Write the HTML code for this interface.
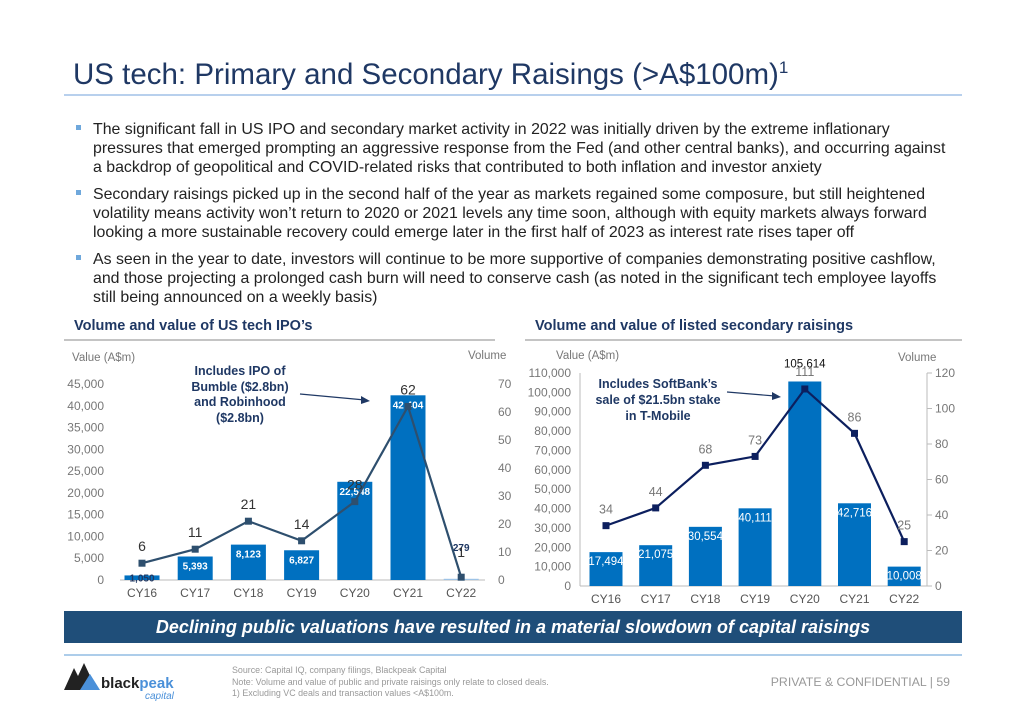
<!DOCTYPE html>
<html><head><meta charset="utf-8"><style>
html,body{margin:0;padding:0;background:#fff;}
body{width:1024px;height:702px;overflow:hidden;position:relative;font-family:"Liberation Sans",Arial,sans-serif;}
svg{position:absolute;left:0;top:0;}
</style></head><body>
<svg width="1024" height="702" viewBox="0 0 1024 702" xmlns="http://www.w3.org/2000/svg" font-family="Liberation Sans, Arial, sans-serif">
<text x="73" y="84" font-size="29.5" fill="#1F3864">US tech: Primary and Secondary Raisings (&gt;A$100m)<tspan font-size="17" dy="-11">1</tspan></text>
<line x1="64" y1="95" x2="962" y2="95" stroke="#8DB3E2" stroke-width="1.2"/>
<g font-size="15.9" fill="#222">
<rect x="76" y="125" width="5" height="5" fill="#6FA8DC"/>
<text x="93" y="134">The significant fall in US IPO and secondary market activity in 2022 was initially driven by the extreme inflationary</text>
<text x="93" y="153">pressures that emerged prompting an aggressive response from the Fed (and other central banks), and occurring against</text>
<text x="93" y="172">a backdrop of geopolitical and COVID-related risks that contributed to both inflation and investor anxiety</text>
<rect x="76" y="190" width="5" height="5" fill="#6FA8DC"/>
<text x="93" y="199">Secondary raisings picked up in the second half of the year as markets regained some composure, but still heightened</text>
<text x="93" y="218">volatility means activity won’t return to 2020 or 2021 levels any time soon, although with equity markets always forward</text>
<text x="93" y="237">looking a more sustainable recovery could emerge later in the first half of 2023 as interest rate rises taper off</text>
<rect x="76" y="255" width="5" height="5" fill="#6FA8DC"/>
<text x="93" y="264">As seen in the year to date, investors will continue to be more supportive of companies demonstrating positive cashflow,</text>
<text x="93" y="283">and those projecting a prolonged cash burn will need to conserve cash (as noted in the significant tech employee layoffs</text>
<text x="93" y="302">still being announced on a weekly basis)</text>
</g>
<text x="74" y="330" font-size="14.5" font-weight="bold" fill="#1F3864">Volume and value of US tech IPO’s</text>
<line x1="64" y1="340" x2="495" y2="340" stroke="#888" stroke-width="1"/>
<text x="535" y="330" font-size="14.5" font-weight="bold" fill="#1F3864">Volume and value of listed secondary raisings</text>
<line x1="525" y1="340" x2="962" y2="340" stroke="#888" stroke-width="1"/>
<g id="c1"></g>
<g id="c2"></g>
<rect x="64" y="611" width="898" height="32" fill="#1F4E79"/>
<text x="513" y="633" font-size="18" font-weight="bold" font-style="italic" fill="#fff" text-anchor="middle">Declining public valuations have resulted in a material slowdown of capital raisings</text>
<line x1="64" y1="655" x2="962" y2="655" stroke="#5B9BD5" stroke-width="1"/>
<g>
<polygon points="64,690 74,668 78,676 84,663 92,680 96,690" fill="#222"/>
<polygon points="80,690 90,674 100,690" fill="#4A90D9"/>
<text x="101" y="688" font-size="15" font-weight="bold" fill="#222">black<tspan fill="#4A90D9">peak</tspan></text>
<text x="145" y="699" font-size="10" font-style="italic" fill="#4A90D9">capital</text>
</g>
<g font-size="8.9" fill="#999">
<text x="232" y="673">Source: Capital IQ, company filings, Blackpeak Capital</text>
<text x="232" y="685">Note: Volume and value of public and private raisings only relate to closed deals.</text>
<text x="232" y="696">1)      Excluding VC deals and transaction values &lt;A$100m.</text>
</g>
<text x="950" y="686" font-size="12.3" fill="#999" text-anchor="end">PRIVATE &amp; CONFIDENTIAL  |  59</text>
</svg>
<script>
const categories = ["CY16","CY17","CY18","CY19","CY20","CY21","CY22"];
const ipoValues = [1050,5393,8123,6827,22548,42404,279];
const ipoVolumes = [6,11,21,14,28,62,1];
const secValues = [17494,21075,30554,40111,105614,42716,10008];
const secVolumes = [34,44,68,73,111,86,25];
const ipoLeftTicks = [0,5000,10000,15000,20000,25000,30000,35000,40000,45000];
const ipoRightTicks = [0,10,20,30,40,50,60,70];
const secLeftTicks = [0,10000,20000,30000,40000,50000,60000,70000,80000,90000,100000,110000];
const secRightTicks = [0,20,40,60,80,100,120];
const NS="http://www.w3.org/2000/svg";
function mk(p,tag,a,txt){const e=document.createElementNS(NS,tag);for(const k in a)e.setAttribute(k,a[k]);if(txt!==undefined)e.textContent=txt;p.appendChild(e);return e;}
const fmt=v=>v.toLocaleString("en-US");

function drawChart(g,o){
  const yL=v=>o.y0-(v/o.lMax)*(o.y0-o.yTop);
  const yR=v=>o.y0-(v/o.rMax)*(o.y0-o.yTop);
  const xC=i=>o.x0+i*o.step;
  o.lTicks.forEach(t=>{const e=mk(g,"text",{x:o.lx,y:yL(t)+4,"font-size":12,fill:"#777","text-anchor":"end"},fmt(t));
    
    });
  o.rTicks.forEach(t=>{const e=mk(g,"text",{x:o.rx,y:yR(t)+4,"font-size":12,fill:"#777","text-anchor":o.ranchor},String(t));
    
    
    if(o.rAxis) mk(g,"line",{x1:o.rAxis,x2:o.rAxis+5,y1:yR(t),y2:yR(t),stroke:"#bbb"});});
  if(o.lAxis){mk(g,"line",{x1:o.lAxis,x2:o.lAxis,y1:o.yTop,y2:o.y0,stroke:"#bbb"});}
  if(o.rAxis){mk(g,"line",{x1:o.rAxis,x2:o.rAxis,y1:o.yTop,y2:o.y0,stroke:"#bbb"});}
  mk(g,"line",{x1:o.bx1,x2:o.bx2,y1:o.y0,y2:o.y0,stroke:"#bbb"});
  categories.forEach((c,i)=>{
    const v=o.vals[i];const y=yL(v);
    const b=mk(g,"rect",{x:xC(i)-o.bw/2,y:y,width:o.bw,height:o.y0-y,fill:o.barColor(i)});
    
    
    const lab=mk(g,"text",{x:xC(i),y:o.valLabelY(i,y),"font-size":o.valFs,"font-weight":o.valBold?"bold":"normal",fill:o.valColor(i),"text-anchor":"middle"},fmt(v));
    
    
    const cl=mk(g,"text",{x:xC(i),y:o.y0+17,"font-size":12,fill:"#555","text-anchor":"middle"},c);
    
    
  });
  const pts=o.vols.map((v,i)=>xC(i)+","+yR(v)).join(" ");
  const pl=mk(g,"polyline",{points:pts,fill:"none",stroke:o.lineColor,"stroke-width":2.2});
  
  
  o.vols.forEach((v,i)=>{
    const m=mk(g,"rect",{x:xC(i)-3.5,y:yR(v)-3.5,width:7,height:7,fill:o.lineColor});
    
    
    const t=mk(g,"text",{x:xC(i),y:o.volLabelY(i,yR(v)),"font-size":o.volFs,fill:o.volColor,"text-anchor":"middle"},String(v));
    
    
  });
  return {yL,yR,xC};
}

const g1=document.getElementById("c1");
mk(g1,"text",{x:72,y:361,"font-size":11.5,fill:"#777"},"Value (A$m)");
mk(g1,"text",{x:468,y:359,"font-size":11.5,fill:"#777"},"Volume");
drawChart(g1,{x0:142,step:53.2,bw:35,y0:580,yTop:384,lMax:45000,rMax:70,lx:104,rx:498,ranchor:"start",
  lTicks:ipoLeftTicks,rTicks:ipoRightTicks,vals:ipoValues,vols:ipoVolumes,bx1:120,bx2:485,
  barColor:i=>i===6?"#9DC3E6":"#0070C0",valFs:10,valBold:true,
  valColor:i=>(i===0||i===6)?"#1F3864":"#fff",
  valLabelY:(i,y)=>i===0?y+6:(i===6?y-28:y+13),
  lineColor:"#2E4F6E",volFs:14,volColor:"#333",volLabelY:(i,y)=>i===6?y-20:y-12});
mk(g1,"text",{x:240,y:375,"font-size":12.5,"font-weight":"bold",fill:"#1F3864","text-anchor":"middle"},"Includes IPO of");
mk(g1,"text",{x:240,y:391,"font-size":12.5,"font-weight":"bold",fill:"#1F3864","text-anchor":"middle"},"Bumble ($2.8bn)");
mk(g1,"text",{x:240,y:406,"font-size":12.5,"font-weight":"bold",fill:"#1F3864","text-anchor":"middle"},"and Robinhood");
mk(g1,"text",{x:240,y:422,"font-size":12.5,"font-weight":"bold",fill:"#1F3864","text-anchor":"middle"},"($2.8bn)");
mk(g1,"line",{x1:300,y1:394,x2:365,y2:400,stroke:"#1F3864","stroke-width":1.2});
mk(g1,"polygon",{points:"370,401 361,396 361,404",fill:"#1F3864"});

const g2=document.getElementById("c2");
mk(g2,"text",{x:556,y:359,"font-size":11.5,fill:"#777"},"Value (A$m)");
mk(g2,"text",{x:898,y:361,"font-size":11.5,fill:"#777"},"Volume");
drawChart(g2,{x0:606,step:49.7,bw:33,y0:586,yTop:373,lMax:110000,rMax:120,lx:571,rx:935,ranchor:"start",
  lTicks:secLeftTicks,rTicks:secRightTicks,vals:secValues,vols:secVolumes,bx1:580,bx2:927,lAxis:580,rAxis:927,
  barColor:i=>"#0070C0",valFs:11.5,valBold:false,
  valColor:i=>i===4?"#111":"#fff",
  valLabelY:(i,y)=>i===4?y-14:y+13,
  lineColor:"#0C1F5E",volFs:12.5,volColor:"#777",volLabelY:(i,y)=>i===4?y-13:y-12});
mk(g2,"text",{x:658,y:388,"font-size":12.5,"font-weight":"bold",fill:"#1F3864","text-anchor":"middle"},"Includes SoftBank’s");
mk(g2,"text",{x:658,y:404,"font-size":12.5,"font-weight":"bold",fill:"#1F3864","text-anchor":"middle"},"sale of $21.5bn stake");
mk(g2,"text",{x:658,y:420,"font-size":12.5,"font-weight":"bold",fill:"#1F3864","text-anchor":"middle"},"in T-Mobile");
mk(g2,"line",{x1:727,y1:392,x2:775,y2:396,stroke:"#1F3864","stroke-width":1.2});
mk(g2,"polygon",{points:"781,397 772,392 772,400",fill:"#1F3864"});
</script>
</body></html>
